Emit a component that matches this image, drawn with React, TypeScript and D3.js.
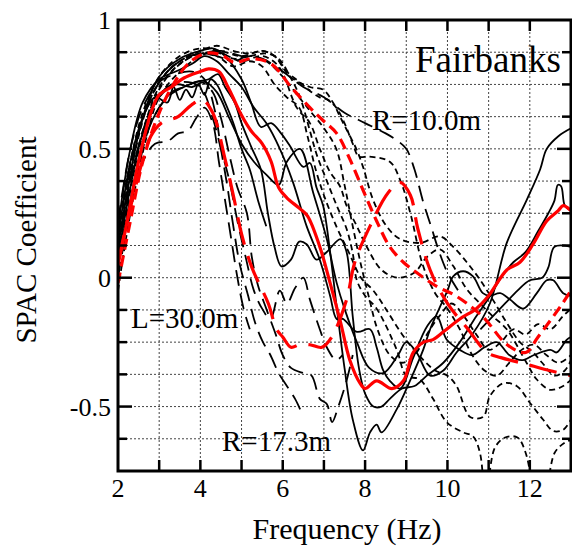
import React from "react";
import * as d3 from "d3";

type P = [number, number];

const xTickValues = [2, 4, 6, 8, 10, 12];
const yTickValues = [-0.5, 0, 0.5, 1];
const yTickLabels = ["-0.5", "0", "0.5", "1"];
const xLabel = "Frequency (Hz)";
const yLabel = "SPAC Coefficient";
const siteName = "Fairbanks";
const annotations = ["R=10.0m", "L=30.0m", "R=17.3m"];

// Red curves
const redSolid: P[] = [[2.0,0.05],[2.2,0.2],[2.5,0.45],[2.8,0.64],[3.0,0.71],[3.3,0.74],[3.6,0.775],[4.0,0.8],[4.2,0.81],[4.45,0.8],[4.67,0.74],[4.85,0.68],[5.0,0.63],[5.23,0.57],[5.5,0.52],[5.72,0.45],[5.9,0.35],[6.1,0.31],[6.4,0.27],[6.6,0.24],[6.9,0.12],[7.15,-0.02],[7.4,-0.17],[7.63,-0.32],[7.88,-0.41],[8.0,-0.43],[8.28,-0.4],[8.65,-0.43],[8.93,-0.4],[9.17,-0.29],[9.42,-0.25],[9.65,-0.24],[9.9,-0.21],[10.3,-0.16],[10.7,-0.12],[11.0,-0.07],[11.44,0.03],[11.76,0.06],[12.08,0.13],[12.41,0.22],[12.69,0.26],[12.81,0.28],[13.0,0.26]];
const redShortDash: P[] = [[2.0,-0.02],[2.3,0.22],[2.6,0.45],[3.0,0.64],[3.38,0.76],[3.7,0.83],[4.1,0.87],[4.5,0.865],[4.83,0.835],[5.23,0.85],[5.72,0.83],[6.2,0.74],[6.66,0.66],[6.98,0.61],[7.31,0.56],[7.63,0.46],[7.95,0.34],[8.28,0.22],[8.6,0.12],[8.93,0.06],[9.25,0.02],[9.75,-0.035],[10.2,-0.07],[10.85,-0.15],[11.45,-0.26],[11.9,-0.29],[12.2,-0.23],[12.75,-0.11],[13.0,-0.05]];
const redLongDash: P[] = [[2.0,0.06],[2.5,0.4],[2.8,0.55],[3.05,0.6],[3.46,0.625],[3.78,0.67],[4.05,0.69],[4.3,0.64],[4.6,0.46],[4.8,0.32],[5.0,0.17],[5.25,0.04],[5.65,-0.1],[5.85,-0.2],[6.0,-0.23],[6.2,-0.27],[6.4,-0.26],[6.66,-0.26],[6.95,-0.27],[7.19,-0.23],[7.55,-0.085],[7.75,0.06],[8.12,0.2],[8.56,0.33],[8.85,0.37],[9.1,0.32],[9.28,0.19],[9.58,0.03],[10.0,-0.1],[10.5,-0.2],[10.96,-0.29],[11.3,-0.31],[11.9,-0.335],[12.35,-0.355],[13.0,-0.38]];

// Black solid curves
const blackSolid1: P[] = [[2.0,0.12],[2.3,0.4],[2.6,0.62],[3.0,0.78],[3.5,0.85],[4.0,0.88],[4.3,0.89],[4.6,0.86],[5.0,0.77],[5.23,0.68],[5.47,0.585],[5.72,0.6],[5.96,0.56],[6.18,0.51],[6.5,0.43],[6.66,0.445],[6.82,0.35],[6.98,0.28],[7.15,0.1],[7.3,-0.1],[7.5,-0.35],[7.7,-0.55],[7.95,-0.67],[8.12,-0.6],[8.28,-0.57],[8.4,-0.6],[8.77,-0.51],[9.09,-0.4],[9.41,-0.28],[9.58,-0.2],[9.8,-0.12],[10.0,-0.05],[10.14,0.005],[10.38,0.025],[10.62,0.005],[10.86,-0.06],[11.03,-0.07],[11.28,-0.06],[11.52,-0.085],[11.84,-0.12],[12.17,-0.06],[12.41,-0.01],[12.57,-0.01],[12.81,-0.06],[13.0,-0.07]];
const blackSolid2: P[] = [[2.0,0.05],[2.3,0.3],[2.6,0.52],[3.0,0.66],[3.3,0.72],[3.6,0.74],[3.9,0.76],[4.2,0.77],[4.43,0.79],[4.6,0.74],[4.83,0.68],[5.0,0.6],[5.23,0.51],[5.47,0.42],[5.64,0.25],[5.8,0.12],[5.97,0.044],[6.2,0.07],[6.4,0.14],[6.58,0.13],[6.82,0.07],[7.07,0.1],[7.4,0.15],[7.55,0.1],[7.7,-0.15],[7.85,-0.35],[8.0,-0.45],[8.2,-0.5],[8.4,-0.5],[8.6,-0.47],[8.9,-0.43],[9.2,-0.42],[9.5,-0.38],[9.9,-0.33],[10.3,-0.25],[10.7,-0.15],[11.0,-0.08],[11.3,0.0],[11.6,0.06],[11.9,0.1],[12.2,0.18],[12.45,0.25],[12.6,0.3],[12.68,0.36],[12.76,0.355],[12.85,0.28],[13.0,0.26]];
const blackSolid3: P[] = [[2.0,0.2],[2.3,0.5],[2.6,0.68],[3.0,0.77],[3.4,0.8],[3.8,0.83],[4.1,0.86],[4.4,0.84],[4.7,0.79],[5.0,0.74],[5.3,0.66],[5.6,0.6],[5.93,0.5],[6.25,0.37],[6.58,0.2],[6.9,0.07],[7.15,-0.07],[7.31,-0.16],[7.46,-0.16],[7.8,-0.21],[8.12,-0.2],[8.28,-0.27],[8.44,-0.36],[8.6,-0.4],[8.85,-0.43],[9.17,-0.31],[9.5,-0.19],[9.74,-0.15],[9.98,-0.24],[10.3,-0.28],[10.6,-0.3],[10.9,-0.27],[11.2,-0.25],[11.5,-0.3],[11.8,-0.32],[12.1,-0.3],[12.5,-0.28],[12.65,-0.29],[12.9,-0.24],[13.0,-0.23]];
const blackSolid4: P[] = [[2.0,0.08],[2.3,0.35],[2.6,0.56],[3.0,0.7],[3.4,0.75],[3.8,0.74],[4.1,0.76],[4.4,0.72],[4.7,0.62],[5.0,0.52],[5.3,0.45],[5.6,0.4],[5.9,0.36],[6.1,0.45],[6.42,0.5],[6.74,0.33],[7.07,0.15],[7.31,-0.02],[7.5,-0.12],[7.8,-0.25],[8.1,-0.35],[8.44,-0.37],[8.8,-0.3],[9.0,-0.25],[9.25,-0.29],[9.58,-0.38],[9.9,-0.36],[10.22,-0.29],[10.6,-0.22],[11.03,-0.1],[11.44,0.135],[11.92,0.3],[12.25,0.42],[12.41,0.5],[12.7,0.55],[13.0,0.58]];
const blackSolid5: P[] = [[10.8,-0.2],[11.1,-0.15],[11.4,-0.1],[11.7,-0.05],[12.0,-0.01],[12.3,0.0],[12.45,0.04],[12.6,0.12],[13.0,0.12]];
const blackSolid6: P[] = [[2.0,0.15],[2.3,0.45],[2.6,0.62],[2.9,0.7],[3.2,0.68],[3.35,0.74],[3.5,0.69],[3.65,0.73],[3.8,0.7],[3.95,0.75],[4.1,0.71],[4.25,0.77],[4.4,0.75],[4.6,0.68],[4.8,0.6],[5.0,0.5],[5.2,0.42],[5.4,0.3],[5.6,0.2]];

// Black short-dash curves
const blackDash1: P[] = [[2.0,0.2],[2.3,0.45],[2.6,0.64],[3.0,0.78],[3.5,0.86],[4.0,0.89],[4.5,0.88],[5.0,0.86],[5.5,0.88],[5.8,0.86],[6.18,0.78],[6.66,0.74],[6.98,0.73],[7.22,0.68],[7.39,0.625],[7.55,0.575],[7.8,0.495],[7.95,0.43],[8.2,0.3],[8.52,0.2],[8.85,0.15],[9.33,0.135],[9.82,0.16],[10.14,0.12],[10.47,0.06],[10.79,-0.008],[11.1,-0.085],[11.44,-0.175],[11.76,-0.25],[12.08,-0.29],[12.3,-0.33],[12.6,-0.38],[12.85,-0.36],[13.0,-0.32]];
const blackDash2: P[] = [[2.0,0.1],[2.3,0.38],[2.7,0.62],[3.0,0.74],[3.5,0.83],[4.0,0.87],[4.5,0.87],[5.0,0.84],[5.5,0.86],[5.9,0.82],[6.34,0.66],[6.66,0.6],[6.9,0.5],[7.15,0.41],[7.39,0.355],[7.55,0.28],[7.8,0.2],[8.04,0.12],[8.4,0.03],[8.8,0.0],[9.2,0.02],[9.5,0.08],[9.82,0.11],[10.14,0.045],[10.47,-0.045],[10.79,-0.1],[11.1,-0.15],[11.44,-0.2],[11.92,-0.33],[12.17,-0.395],[12.5,-0.435],[12.81,-0.42],[13.0,-0.395]];
const blackDash3: P[] = [[2.0,-0.05],[2.3,0.25],[2.7,0.55],[3.0,0.7],[3.5,0.8],[4.0,0.86],[4.4,0.88],[4.8,0.85],[5.2,0.86],[5.6,0.87],[5.9,0.85],[6.18,0.78],[6.42,0.7],[6.66,0.57],[6.82,0.48],[7.06,0.38],[7.31,0.28],[7.55,0.19],[7.7,0.095],[7.8,-0.01],[8.0,-0.07],[8.28,-0.12],[8.77,-0.28],[9.0,-0.38],[9.33,-0.395],[9.65,-0.47],[9.98,-0.56],[10.38,-0.6],[10.62,-0.615],[10.79,-0.68],[10.87,-0.8]];
const blackDash4: P[] = [[2.0,0.05],[2.4,0.42],[2.8,0.66],[3.2,0.78],[3.6,0.84],[4.0,0.87],[4.4,0.86],[4.8,0.82],[5.2,0.84],[5.5,0.82],[5.8,0.75],[6.1,0.7],[6.4,0.66],[6.6,0.55],[6.8,0.42],[7.0,0.32],[7.3,0.2],[7.6,0.1],[7.9,0.0],[8.2,-0.05],[8.5,-0.12],[8.9,-0.22],[9.3,-0.3],[9.7,-0.36],[10.0,-0.38],[10.22,-0.42],[10.55,-0.54],[10.87,-0.54],[11.03,-0.46],[11.35,-0.41],[11.68,-0.42],[12.0,-0.485],[12.32,-0.55],[12.57,-0.595],[12.81,-0.59],[13.0,-0.55]];
const blackDash5: P[] = [[2.0,0.15],[2.4,0.5],[2.8,0.7],[3.2,0.8],[3.6,0.85],[4.0,0.88],[4.4,0.9],[4.8,0.88],[5.2,0.87],[5.5,0.88],[5.8,0.86],[6.1,0.8],[6.4,0.76],[6.7,0.72],[6.9,0.7],[7.1,0.69],[7.3,0.66],[7.5,0.6],[7.7,0.52],[7.85,0.47],[8.1,0.47],[8.6,0.45],[8.85,0.38],[9.1,0.25],[9.4,0.05],[9.7,-0.06],[10.0,-0.12],[10.3,-0.2],[10.6,-0.3],[10.9,-0.36],[11.2,-0.38],[11.5,-0.33],[11.8,-0.28],[12.1,-0.26],[12.4,-0.3],[12.7,-0.33],[13.0,-0.3]];
const blackDash6: P[] = [[2.0,0.12],[2.4,0.48],[2.8,0.7],[3.2,0.8],[3.6,0.85],[4.0,0.87],[4.4,0.86],[4.8,0.84],[5.2,0.86],[5.6,0.84],[6.0,0.78],[6.4,0.7],[6.7,0.64],[7.0,0.58],[7.3,0.5],[7.5,0.36],[7.7,0.2],[7.9,0.05],[8.1,-0.08],[8.3,-0.2],[8.6,-0.3],[8.9,-0.33],[9.2,-0.3],[9.5,-0.22],[9.8,-0.15],[10.1,-0.1],[10.4,-0.15],[10.7,-0.22],[11.0,-0.28],[11.3,-0.25],[11.6,-0.2],[11.9,-0.22],[12.2,-0.18],[12.5,-0.2],[12.8,-0.15],[13.0,-0.12]];
const blackDash7: P[] = [[11.0,-0.8],[11.15,-0.66],[11.4,-0.62],[11.7,-0.62],[11.9,-0.68],[12.05,-0.8]];
const blackDash8: P[] = [[12.45,-0.8],[12.6,-0.68],[12.85,-0.64],[13.0,-0.63]];

// Black long-dash curves
const blackLong1: P[] = [[2.0,0.22],[2.3,0.5],[2.6,0.66],[3.0,0.76],[3.4,0.79],[3.8,0.8],[4.1,0.77],[4.35,0.65],[4.5,0.5],[4.65,0.36],[4.8,0.2],[4.96,0.05],[5.16,-0.07],[5.33,-0.175],[5.52,-0.25],[5.7,-0.3],[5.9,-0.37],[6.1,-0.42],[6.3,-0.47],[6.45,-0.52]];
const blackLong2: P[] = [[2.0,0.1],[2.4,0.45],[2.8,0.65],[3.2,0.74],[3.6,0.76],[4.0,0.74],[4.3,0.62],[4.5,0.5],[4.7,0.38],[4.9,0.22],[5.1,0.08],[5.3,-0.05],[5.5,-0.12],[5.7,-0.16],[5.93,-0.05],[6.1,-0.1],[6.3,-0.04],[6.5,0.0],[6.66,-0.085],[6.9,-0.2],[7.07,-0.27],[7.3,-0.32],[7.45,-0.3]];
const blackLong3: P[] = [[2.0,0.0],[2.4,0.35],[2.8,0.6],[3.2,0.7],[3.6,0.74],[4.0,0.76],[4.3,0.72],[4.5,0.62],[4.7,0.48],[4.9,0.35],[5.13,0.25],[5.25,0.08],[5.4,-0.03],[5.6,-0.12],[5.83,-0.22],[6.0,-0.3],[6.2,-0.35],[6.5,-0.37],[6.7,-0.38],[6.9,-0.47],[7.07,-0.49],[7.2,-0.56],[7.35,-0.5],[7.55,-0.4],[7.7,-0.3]];
const blackLong4: P[] = [[2.0,0.18],[2.4,0.5],[2.8,0.7],[3.2,0.8],[3.6,0.85],[4.0,0.87],[4.5,0.88],[5.0,0.86],[5.5,0.85],[6.0,0.8],[6.5,0.74],[7.0,0.7],[7.5,0.64],[8.0,0.6],[8.5,0.56],[8.8,0.53],[9.0,0.5],[9.2,0.42],[9.4,0.3],[9.6,0.2],[9.8,0.1],[10.0,0.02],[10.3,-0.06]];
const blackLong5: P[] = [[2.0,0.05],[2.3,0.3],[2.6,0.45],[2.9,0.52],[3.21,0.53],[3.46,0.56],[3.7,0.57],[3.9,0.62],[4.1,0.66],[4.3,0.6],[4.45,0.45],[4.6,0.3],[4.75,0.15],[4.9,0.0],[5.05,-0.12],[5.2,-0.2]];

const blackSolids = [blackSolid1, blackSolid2, blackSolid3, blackSolid4, blackSolid5, blackSolid6];
const blackDashes = [blackDash1, blackDash2, blackDash3, blackDash4, blackDash5, blackDash6, blackDash7, blackDash8];
const blackLongs = [blackLong1, blackLong2, blackLong3, blackLong4, blackLong5];

const FONT = '"Liberation Serif", Tinos, "Times New Roman", Times, "DejaVu Serif", serif';

export default function App() {
  const W = 572, H = 548;
  const left = 118, right = 571, top = 20, bottom = 471;
  const x = d3.scaleLinear().domain([2, 13]).range([left, right]);
  const y = d3.scaleLinear().domain([-0.75, 1]).range([bottom, top]);
  const line = d3.line<P>().x(d => x(d[0])).y(d => y(d[1])).curve(d3.curveCatmullRom.alpha(0.5));
  const xGrid = d3.range(3, 13);
  const yGrid = d3.range(-0.625, 0.9, 0.125);
  const yMinor = d3.range(-0.625, 1, 0.125);
  const ts = { fontFamily: FONT } as React.CSSProperties;

  return (
    <svg width={W} height={H} style={{ position: "absolute", left: 0, top: 0, background: "#fff" }}>
      <defs>
        <clipPath id="plot"><rect x={left} y={top} width={right - left} height={bottom - top} /></clipPath>
      </defs>
      <rect x={0} y={0} width={W} height={H} fill="#fff" />
      <g stroke="#444" strokeWidth={1} strokeDasharray="2,2">
        {xGrid.map(v => <line key={"gx" + v} x1={x(v)} x2={x(v)} y1={top} y2={bottom} />)}
        {yGrid.map(v => <line key={"gy" + v} x1={left} x2={right} y1={y(v)} y2={y(v)} />)}
      </g>
      <g clipPath="url(#plot)" fill="none" strokeLinejoin="round">
        {blackSolids.map((c, i) => <path key={"bs" + i} d={line(c) || ""} stroke="#000" strokeWidth={1.8} />)}
        {blackDashes.map((c, i) => <path key={"bd" + i} d={line(c) || ""} stroke="#000" strokeWidth={1.8} strokeDasharray="6,4" />)}
        {blackLongs.map((c, i) => <path key={"bl" + i} d={line(c) || ""} stroke="#000" strokeWidth={1.8} strokeDasharray="16,8" />)}
        <path d={line(redLongDash) || ""} stroke="#ff0000" strokeWidth={3.2} strokeDasharray="28,12" />
        <path d={line(redShortDash) || ""} stroke="#ff0000" strokeWidth={3.2} strokeDasharray="11,6" />
        <path d={line(redSolid) || ""} stroke="#ff0000" strokeWidth={3.2} />
      </g>
      <g stroke="#000" strokeWidth={2.5}>
        {d3.range(3, 13).map(v => (
          <g key={"xt" + v}>
            <line x1={x(v)} x2={x(v)} y1={bottom} y2={bottom - 11} />
            <line x1={x(v)} x2={x(v)} y1={top} y2={top + 11} />
          </g>
        ))}
        {yMinor.map(v => {
          const major = Math.abs(v * 2 - Math.round(v * 2)) < 1e-6;
          const len = major ? 14 : 9;
          return (
            <g key={"yt" + v}>
              <line x1={left} x2={left + len} y1={y(v)} y2={y(v)} />
              <line x1={right} x2={right - len} y1={y(v)} y2={y(v)} />
            </g>
          );
        })}
      </g>
      <rect x={left} y={top} width={right - left} height={bottom - top} fill="none" stroke="#000" strokeWidth={3} />
      <g fill="#000">
        {xTickValues.map(v => <text key={"xl" + v} style={ts} fontSize={26} x={x(v)} y={497} textAnchor="middle">{v}</text>)}
        {yTickValues.map((v, i) => <text key={"yl" + v} style={ts} fontSize={26} x={111} y={y(v) + 9} textAnchor="end">{yTickLabels[i]}</text>)}
        <text style={ts} x={347} y={539} fontSize={30} textAnchor="middle">{xLabel}</text>
        <text style={ts} transform={`translate(36,240) rotate(-90)`} fontSize={29} textAnchor="middle">{yLabel}</text>
        <text style={ts} x={415} y={72} fontSize={37}>{siteName}</text>
        <text style={ts} x={372} y={130} fontSize={29}>{annotations[0]}</text>
        <text style={ts} x={131} y={328} fontSize={29}>{annotations[1]}</text>
        <text style={ts} x={222} y={451} fontSize={29}>{annotations[2]}</text>
      </g>
    </svg>
  );
}
